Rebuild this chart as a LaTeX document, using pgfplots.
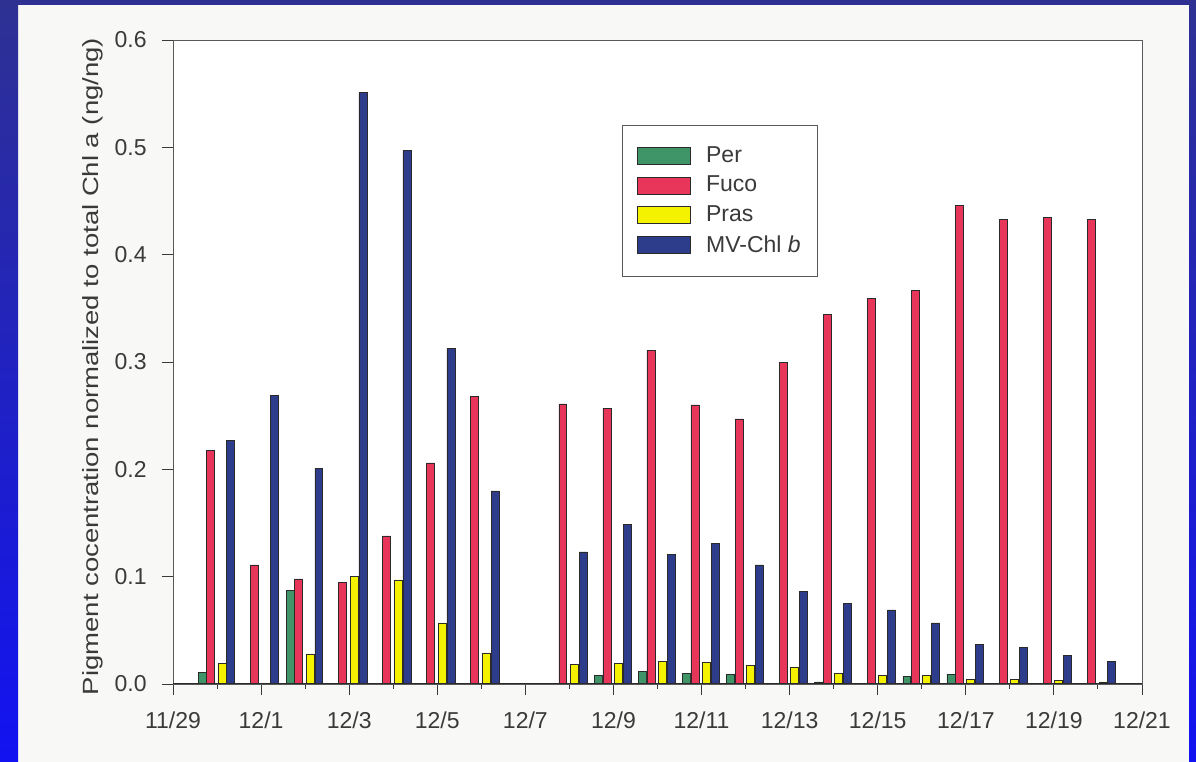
\documentclass[border=0pt]{standalone}
\usepackage{fontspec}
\setmainfont{Liberation Sans}
\usepackage{pgfplots}
\pgfplotsset{compat=1.18}

\definecolor{frameTop}{HTML}{2E3192}
\definecolor{frameBot}{HTML}{1212F2}
\definecolor{paper}{HTML}{F8F8F6}
\definecolor{perC}{HTML}{3F9468}
\definecolor{fucoC}{HTML}{E8365A}
\definecolor{prasC}{HTML}{F5F200}
\definecolor{mvC}{HTML}{2D3D8C}
\definecolor{inkC}{HTML}{3A3A3A}
\definecolor{edgeC}{HTML}{2A2A2A}

\begin{document}
\begin{tikzpicture}
\useasboundingbox (0bp,0bp) rectangle (598bp,381bp);
% page and blue frame
\fill[paper] (0bp,0bp) rectangle (598bp,381bp);
\shade[top color=frameTop, bottom color=frameBot] (0bp,0bp) rectangle (9bp,381bp);
\shade[top color=frameTop, bottom color=frameBot] (594.5bp,0bp) rectangle (598bp,381bp);
\fill[frameTop] (0bp,378.5bp) rectangle (598bp,381bp);

\begin{axis}[
  at={(86.5bp,39bp)}, anchor=south west,
  scale only axis, width=484.5bp, height=322bp,
  xmin=0, xmax=22, ymin=0, ymax=0.6,
  axis background/.style={fill=white},
  axis line style={draw=gray!70!black, line width=0.5bp},
  xtick={0,2,4,6,8,10,12,14,16,18,20,22},
  xticklabels={11/29,12/1,12/3,12/5,12/7,12/9,12/11,12/13,12/15,12/17,12/19,12/21},
  minor xtick={1,3,5,7,9,11,13,15,17,19,21},
  ytick={0,0.1,0.2,0.3,0.4,0.5,0.6},
  /pgf/number format/assume math mode=true,
  /pgf/number format/fixed,
  /pgf/number format/fixed zerofill,
  /pgf/number format/precision=1,
  tick align=outside, tick pos=left,
  major tick length=5.5bp, minor tick length=2.5bp,
  tick style={draw=inkC, line width=0.5bp},
  tick label style={font=\fontsize{11.5bp}{13bp}\selectfont, text=inkC},
  xticklabel style={anchor=center, inner sep=0pt, yshift=-12.5bp},
  yticklabel style={anchor=east, inner sep=0pt, xshift=-7.5bp},
  ylabel={\scalebox{1.25}[1]{Pigment cocentration normalized to total Chl a (ng/ng)}},
  ylabel style={at={(axis description cs:-0.083,0.493)}, anchor=center,
    font=\fontsize{11bp}{13bp}\selectfont, text=inkC},
  legend cell align=left,
  legend image code/.code={\draw[#1, line width=0.3bp] (0bp,-4.25bp) rectangle (26.5bp,4.25bp);},
  legend style={at={(0.4634,0.868)}, anchor=north west, draw=gray!70!black,
    line width=0.5bp, fill=white, text=inkC,
    font=\fontsize{11.5bp}{13bp}\selectfont,
    inner xsep=7bp, inner ysep=9bp, row sep=2.4bp,
    nodes={inner sep=1.5bp},
    /tikz/every odd column/.append style={column sep=6.5bp}},
]
% Per
\addplot[ybar, bar width=0.18, bar shift=-0.34, fill=perC, draw=edgeC, line width=0.3bp]
  coordinates {(1,0.011) (3,0.087) (10,0.008) (11,0.012) (12,0.010) (13,0.009)
               (15,0.002) (17,0.007) (18,0.009)};
% Fuco
\addplot[ybar, bar width=0.18, bar shift=-0.15, fill=fucoC, draw=edgeC, line width=0.3bp]
  coordinates {(1,0.218) (2,0.111) (3,0.098) (4,0.095) (5,0.138) (6,0.206) (7,0.268)
               (9,0.261) (10,0.257) (11,0.311) (12,0.260) (13,0.247) (14,0.300)
               (15,0.344) (16,0.359) (17,0.367) (18,0.446) (19,0.433) (20,0.435) (21,0.433)};
% Pras
\addplot[ybar, bar width=0.18, bar shift=0.11, fill=prasC, draw=edgeC, line width=0.3bp]
  coordinates {(1,0.019) (3,0.028) (4,0.100) (5,0.097) (6,0.057) (7,0.029)
               (9,0.018) (10,0.019) (11,0.021) (12,0.020) (13,0.017) (14,0.016)
               (15,0.010) (16,0.008) (17,0.008) (18,0.004) (19,0.004) (20,0.003) (21,0.002)};
% MV-Chl b
\addplot[ybar, bar width=0.18, bar shift=0.31, fill=mvC, draw=edgeC, line width=0.3bp]
  coordinates {(1,0.227) (2,0.269) (3,0.201) (4,0.551) (5,0.497) (6,0.313) (7,0.180)
               (9,0.123) (10,0.149) (11,0.121) (12,0.131) (13,0.111) (14,0.086)
               (15,0.075) (16,0.069) (17,0.057) (18,0.037) (19,0.034) (20,0.027) (21,0.021)};
\legend{Per, Fuco, Pras, MV-Chl \textit{b}}
% heavier baseline along the bottom of the frame
\draw[edgeC, line width=0.9bp] (rel axis cs:0,0) -- (rel axis cs:1,0);
\end{axis}
\end{tikzpicture}
\end{document}
